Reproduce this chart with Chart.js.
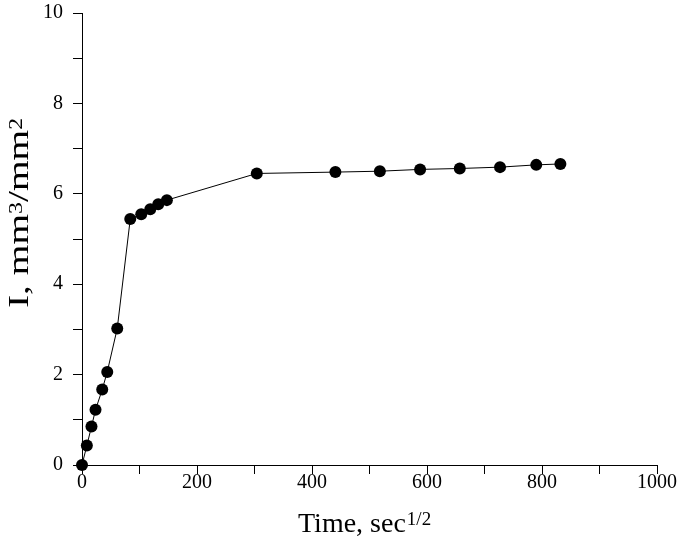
<!DOCTYPE html>
<html>
<head>
<meta charset="utf-8">
<script src="https://cdn.jsdelivr.net/npm/chart.js@4"></script>
<style>
  html, body { margin: 0; padding: 0; background: #fff; }
  #wrap { width: 682px; height: 540px; }
</style>
</head>
<body>
<div id="wrap"><canvas id="chart" width="682" height="540"></canvas></div>
<script>
// time values (sec^1/2) and intensity I (mm3/mm2)
const timeValues = [0, 8.4, 16.5, 23.5, 35.2, 43.9, 61.3, 83.9, 103, 118.7, 132.6, 147.6,
    304, 440.7, 518, 588, 657, 727, 790, 832];
const intensityValues = [0, 0.43, 0.85, 1.22, 1.67, 2.06, 3.02, 5.44, 5.55, 5.66, 5.77, 5.86,
    6.45, 6.48, 6.50, 6.54, 6.56, 6.59, 6.64, 6.66];
const xLabelTicks = [0, 200, 400, 600, 800, 1000];
const yLabelTicks = [0, 2, 4, 6, 8, 10];

const serif = "'Liberation Serif', 'Times New Roman', serif";

// draws axis titles with real superscripts
const titlePlugin = {
    id: "titles",
    afterDraw(chart) {
        const ctx = chart.ctx;
        ctx.save();
        ctx.fillStyle = "#000";
        ctx.textBaseline = "alphabetic";

        // x title: "Time, sec" + sup "1/2"
        const mainX = "Time, sec";
        const supX = "1/2";
        ctx.font = "28px " + serif;
        const wMain = ctx.measureText(mainX).width;
        const x = 298;
        const baseY = 532;
        ctx.fillText(mainX, x, baseY);
        ctx.font = "19px " + serif;
        ctx.fillText(supX, x + wMain + 1, baseY - 7);

        // y title: "I, mm" sup3 "/mm" sup2, rotated
        const parts = [["I, mm", false], ["3", true], ["/mm", false], ["2", true]];
        const fontFor = p => (p[1] ? "18px " : "30px ") + serif;
        let total = 0;
        parts.forEach(p => {
            ctx.font = fontFor(p);
            total += ctx.measureText(p[0]).width;
        });
        ctx.translate(28, 213);
        ctx.rotate(-Math.PI / 2);
        ctx.scale(190 / total, 1);
        let px = -total / 2;
        parts.forEach(p => {
            ctx.font = fontFor(p);
            ctx.fillText(p[0], px, p[1] ? -6 : 0);
            px += ctx.measureText(p[0]).width;
        });
        ctx.restore();
    }
};

const ctx = document.getElementById("chart").getContext("2d");
new Chart(ctx, {
    type: "scatter",
    data: {
        datasets: [{
            data: timeValues.map((t, i) => ({ x: t, y: intensityValues[i] })),
            showLine: true,
            clip: false,
            borderColor: "#000",
            borderWidth: 1,
            backgroundColor: "#000",
            pointBackgroundColor: "#000",
            pointBorderColor: "#000",
            pointRadius: 6,
            pointBorderWidth: 0,
            tension: 0
        }]
    },
    options: {
        responsive: false,
        animation: false,
        devicePixelRatio: 1,
        layout: { padding: { left: 0, top: 13, right: 25, bottom: 0 } },
        plugins: { legend: { display: false }, tooltip: { enabled: false } },
        scales: {
            x: {
                type: "linear",
                min: 0,
                max: 1000,
                border: { display: true, color: "#000", width: 1 },
                grid: { drawOnChartArea: false, drawTicks: true, tickLength: 9, color: "#000" },
                ticks: {
                    stepSize: 100,
                    padding: -3,
                    color: "#000",
                    font: { family: serif, size: 20 },
                    maxRotation: 0,
                    autoSkip: false,
                    callback: v => xLabelTicks.includes(v) ? String(v) : ""
                },
                afterFit: s => { s.height = 75; s.paddingLeft = 0; s.paddingRight = 0; }
            },
            y: {
                type: "linear",
                min: 0,
                max: 10,
                border: { display: true, color: "#000", width: 1 },
                grid: { drawOnChartArea: false, drawTicks: true, tickLength: 9, color: "#000" },
                ticks: {
                    stepSize: 1,
                    padding: 10,
                    color: "#000",
                    font: { family: serif, size: 20 },
                    autoSkip: false,
                    callback: v => yLabelTicks.includes(v) ? String(v) : ""
                },
                afterFit: s => { s.width = 82; s.paddingTop = 0; s.paddingBottom = 0; }
            }
        }
    },
    plugins: [titlePlugin]
});
</script>
</body>
</html>
